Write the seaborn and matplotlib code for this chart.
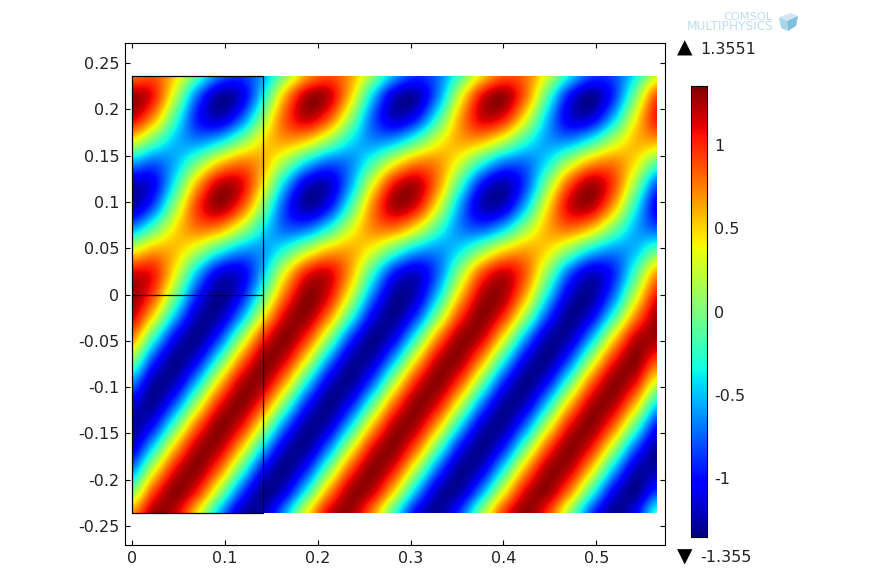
import numpy as np
import pandas as pd
import matplotlib
matplotlib.use("Agg")
import matplotlib.pyplot as plt
from matplotlib.patches import Polygon, Rectangle
from matplotlib.transforms import Affine2D
import seaborn as sns

# field values, top row (y=0.236) to bottom row (y=-0.236)
row_00 = [0.78, 0.88, 0.49, -0.16, -0.72, -0.89, -0.58, 0.05, 0.65, 0.90, 0.66, 0.06, -0.57, -0.89, -0.73, -0.17, 0.48, 0.87, 0.79, 0.28, -0.38, -0.84, -0.84, -0.38, 0.28]
row_01 = [1.30, 1.03, 0.19, -0.75, -1.28, -1.12, -0.35, 0.61, 1.24, 1.19, 0.50, -0.46, -1.18, -1.25, -0.65, 0.31, 1.10, 1.29, 0.78, -0.15, -1.00, -1.31, -0.90, -0.01, 0.89]
row_02 = [1.15, 0.64, -0.21, -0.95, -1.17, -0.76, 0.07, 0.85, 1.18, 0.86, 0.08, -0.75, -1.17, -0.95, -0.22, 0.63, 1.14, 1.03, 0.36, -0.50, -1.10, -1.10, -0.50, 0.37, 1.04]
row_03 = [0.39, -0.08, -0.50, -0.65, -0.45, -0.01, 0.45, 0.65, 0.51, 0.09, -0.38, -0.64, -0.55, -0.16, 0.32, 0.62, 0.59, 0.24, -0.24, -0.59, -0.62, -0.31, 0.17, 0.56, 0.64]
row_04 = [-0.57, -0.75, -0.53, -0.02, 0.50, 0.75, 0.59, 0.11, -0.43, -0.74, -0.65, -0.20, 0.35, 0.71, 0.69, 0.29, -0.27, -0.68, -0.72, -0.38, 0.18, 0.63, 0.74, 0.45, -0.09]
row_05 = [-1.23, -1.04, -0.29, 0.62, 1.19, 1.12, 0.43, -0.49, -1.14, -1.18, -0.57, 0.34, 1.07, 1.22, 0.70, -0.19, -0.98, -1.24, -0.83, 0.04, 0.88, 1.25, 0.93, 0.11, -0.77]
row_06 = [-1.25, -0.79, 0.11, 0.94, 1.27, 0.90, 0.05, -0.83, -1.26, -1.00, -0.20, 0.71, 1.24, 1.09, 0.35, -0.58, -1.19, -1.16, -0.50, 0.43, 1.13, 1.21, 0.64, -0.28, -1.05]
row_07 = [-0.62, -0.12, 0.45, 0.77, 0.68, 0.22, -0.36, -0.75, -0.72, -0.31, 0.28, 0.71, 0.76, 0.40, -0.18, -0.66, -0.78, -0.48, 0.09, 0.60, 0.79, 0.55, 0.01, -0.53, -0.79]
row_08 = [0.33, 0.61, 0.55, 0.20, -0.26, -0.58, -0.59, -0.27, 0.19, 0.55, 0.61, 0.34, -0.12, -0.51, -0.62, -0.40, 0.04, 0.46, 0.63, 0.46, 0.04, -0.40, -0.62, -0.51, -0.11]
row_09 = [1.11, 1.02, 0.37, -0.48, -1.07, -1.08, -0.50, 0.35, 1.01, 1.12, 0.62, -0.21, -0.93, -1.14, -0.74, 0.07, 0.84, 1.15, 0.84, 0.07, -0.74, -1.14, -0.93, -0.21, 0.62]
row_10 = [1.31, 0.90, -0.01, -0.91, -1.31, -1.01, -0.16, 0.78, 1.30, 1.11, 0.32, -0.65, -1.26, -1.19, -0.47, 0.50, 1.20, 1.25, 0.62, -0.35, -1.12, -1.29, -0.76, 0.19, 1.03]
row_11 = [1.18, 0.45, -0.52, -1.21, -1.24, -0.60, 0.37, 1.14, 1.29, 0.74, -0.21, -1.05, -1.31, -0.87, 0.05, 0.94, 1.32, 0.98, 0.11, -0.82, -1.31, -1.08, -0.28, 0.68, 1.27]
row_12 = [0.72, -0.24, -1.06, -1.31, -0.85, 0.08, 0.96, 1.32, 0.96, 0.09, -0.84, -1.31, -1.07, -0.25, 0.71, 1.28, 1.16, 0.40, -0.57, -1.23, -1.22, -0.55, 0.42, 1.16, 1.28]
row_13 = [0.06, -0.86, -1.31, -1.05, -0.22, 0.73, 1.29, 1.14, 0.38, -0.59, -1.24, -1.21, -0.53, 0.44, 1.18, 1.27, 0.67, -0.29, -1.09, -1.31, -0.81, 0.13, 0.99, 1.32, 0.93]
row_14 = [-0.62, -1.25, -1.20, -0.50, 0.47, 1.19, 1.26, 0.65, -0.32, -1.11, -1.30, -0.79, 0.16, 1.01, 1.32, 0.91, 0.01, -0.90, -1.32, -1.02, -0.17, 0.78, 1.30, 1.11, 0.33]
row_15 = [-1.12, -1.29, -0.76, 0.18, 1.03, 1.32, 0.89, -0.02, -0.92, -1.32, -1.00, -0.14, 0.80, 1.30, 1.10, 0.30, -0.66, -1.26, -1.18, -0.45, 0.52, 1.21, 1.24, 0.60, -0.37]
row_16 = [-1.32, -0.98, -0.11, 0.82, 1.31, 1.08, 0.27, -0.69, -1.27, -1.17, -0.43, 0.54, 1.22, 1.23, 0.58, -0.39, -1.15, -1.28, -0.72, 0.23, 1.06, 1.31, 0.85, -0.07, -0.96]
row_17 = [-1.15, -0.40, 0.57, 1.23, 1.22, 0.55, -0.42, -1.16, -1.28, -0.69, 0.26, 1.08, 1.31, 0.83, -0.10, -0.98, -1.32, -0.95, -0.06, 0.86, 1.31, 1.05, 0.22, -0.73, -1.29]
row_18 = [-0.67, 0.29, 1.09, 1.30, 0.81, -0.13, -1.00, -1.32, -0.93, -0.03, 0.88, 1.32, 1.04, 0.19, -0.75, -1.29, -1.13, -0.35, 0.62, 1.25, 1.20, 0.51, -0.47, -1.19, -1.26]
row_19 = [0.00, 0.90, 1.32, 1.02, 0.16, -0.78, -1.30, -1.11, -0.32, 0.64, 1.26, 1.19, 0.48, -0.50, -1.20, -1.25, -0.62, 0.34, 1.12, 1.29, 0.76, -0.18, -1.03, -1.32, -0.89]
row_20 = [0.67, 1.27, 1.18, 0.45, -0.52, -1.21, -1.24, -0.60, 0.37, 1.14, 1.29, 0.74, -0.21, -1.05, -1.31, -0.87, 0.05, 0.94, 1.32, 0.98, 0.11, -0.82, -1.31, -1.08, -0.27]

field_rows = [row_00, row_01, row_02, row_03, row_04, row_05, row_06,
              row_07, row_08, row_09, row_10, row_11, row_12, row_13,
              row_14, row_15, row_16, row_17, row_18, row_19, row_20]

x_range = [0.0, 0.565]
y_range = [-0.236, 0.236]
color_min = -1.355
color_max = 1.3551

x_ticks = [0, 0.1, 0.2, 0.3, 0.4, 0.5]
x_labels = ["0", "0.1", "0.2", "0.3", "0.4", "0.5"]
y_ticks = [0.25, 0.2, 0.15, 0.1, 0.05, 0, -0.05, -0.1, -0.15, -0.2, -0.25]
y_labels = ["0.25", "0.2", "0.15", "0.1", "0.05", "0", "-0.05", "-0.1", "-0.15", "-0.2", "-0.25"]
bar_ticks = [1, 0.5, 0, -0.5, -1]
bar_labels = ["1", "0.5", "0", "-0.5", "-1"]

# black outline of the unit cell
cell_x = [0, 0.141, 0.141, 0, 0]
cell_y = [0.236, 0.236, -0.236, -0.236, 0.236]
split_x = [0, 0.141]
split_y = [0, 0]

W, H = 881, 574
TEXT = "#222222"


def fig_box(left, top, right, bottom):
    return [left / W, 1 - bottom / H, (right - left) / W, (bottom - top) / H]


sns.set_style("ticks")
plt.rcParams["font.family"] = ["DejaVu Sans"]

fig = plt.figure(figsize=(W / 100, H / 100), dpi=100, facecolor="white")
ax = fig.add_axes(fig_box(125, 43, 665, 545))
cax = fig.add_axes(fig_box(691, 86, 707, 537))

df = pd.DataFrame(field_rows)
dx = (x_range[1] - x_range[0]) / (df.shape[1] - 1)
dy = (y_range[1] - y_range[0]) / (df.shape[0] - 1)

sns.heatmap(df, ax=ax, cmap="jet", vmin=color_min, vmax=color_max, cbar_ax=cax,
            xticklabels=False, yticklabels=False, cbar_kws={"ticks": bar_ticks})

# put the cells in data units, then smooth them with an image on top
field_clip = Rectangle((x_range[0], y_range[0]), x_range[1] - x_range[0],
                       y_range[1] - y_range[0], transform=ax.transData)
mesh = ax.collections[0]
mesh.set_transform(Affine2D().scale(dx, -dy).translate(-dx / 2, y_range[1] + dy / 2) + ax.transData)
mesh.set_clip_path(field_clip)
im = ax.imshow(df.values, cmap="jet", vmin=color_min, vmax=color_max,
               interpolation="catrom", aspect="auto", origin="upper", zorder=1.5,
               extent=(x_range[0] - dx / 2, x_range[1] + dx / 2,
                       y_range[0] - dy / 2, y_range[1] + dy / 2))
im.set_clip_path(field_clip)

sns.lineplot(x=cell_x, y=cell_y, ax=ax, sort=False, estimator=None, color="black", linewidth=0.9)
sns.lineplot(x=split_x, y=split_y, ax=ax, sort=False, estimator=None, color="black", linewidth=0.9)

ax.set_xlim(-0.0075, 0.574)
ax.set_ylim(-0.2705, 0.2716)
ax.set_xticks(x_ticks, x_labels)
ax.set_yticks(y_ticks, y_labels)
ax.tick_params(direction="in", length=3.8, width=0.8, top=True, right=True,
               labelsize=11.5, pad=4, colors="black", labelcolor=TEXT)
for spine in ax.spines.values():
    spine.set_visible(True)
    spine.set_linewidth(0.8)
    spine.set_color("black")

cbar = mesh.colorbar
cbar.outline.set_visible(True)
cbar.outline.set_linewidth(0.8)
cbar.outline.set_edgecolor("black")
cax.set_yticks(bar_ticks, bar_labels)
cax.tick_params(length=0, labelsize=11.5, pad=5, labelcolor=TEXT)

# max and min markers
fig.text(685 / W, 1 - 48 / H, "▲", fontsize=14.5, color="black", ha="center", va="center")
fig.text(700 / W, 1 - 49 / H, "1.3551", fontsize=11.5, color=TEXT, ha="left", va="center")
fig.text(685 / W, 1 - 557 / H, "▼", fontsize=14.5, color="black", ha="center", va="center")
fig.text(700 / W, 1 - 557 / H, "-1.355", fontsize=11.5, color=TEXT, ha="left", va="center")

# logo
fig.text(772 / W, 1 - 17 / H, "COMSOL", fontsize=8.2, color="#bcdeed", ha="right", va="center")
fig.text(773 / W, 1 - 27 / H, "MULTIPHYSICS", fontsize=8.7, color="#bcdeed", ha="right", va="center")
cube_top = [(779 / W, 1 - 17 / H), (791 / W, 1 - 13 / H), (798 / W, 1 - 16 / H), (787 / W, 1 - 21 / H)]
cube_left = [(779 / W, 1 - 17 / H), (787 / W, 1 - 21 / H), (788 / W, 1 - 31 / H), (781 / W, 1 - 28 / H)]
cube_right = [(787 / W, 1 - 21 / H), (798 / W, 1 - 16 / H), (796 / W, 1 - 26 / H), (788 / W, 1 - 31 / H)]
for pts, col in [(cube_top, "#cfe8f3"), (cube_left, "#a9d6ea"), (cube_right, "#7fc0de")]:
    fig.add_artist(Polygon(pts, closed=True, facecolor=col, edgecolor="none", transform=fig.transFigure))

fig.savefig("out.png", dpi=100)
